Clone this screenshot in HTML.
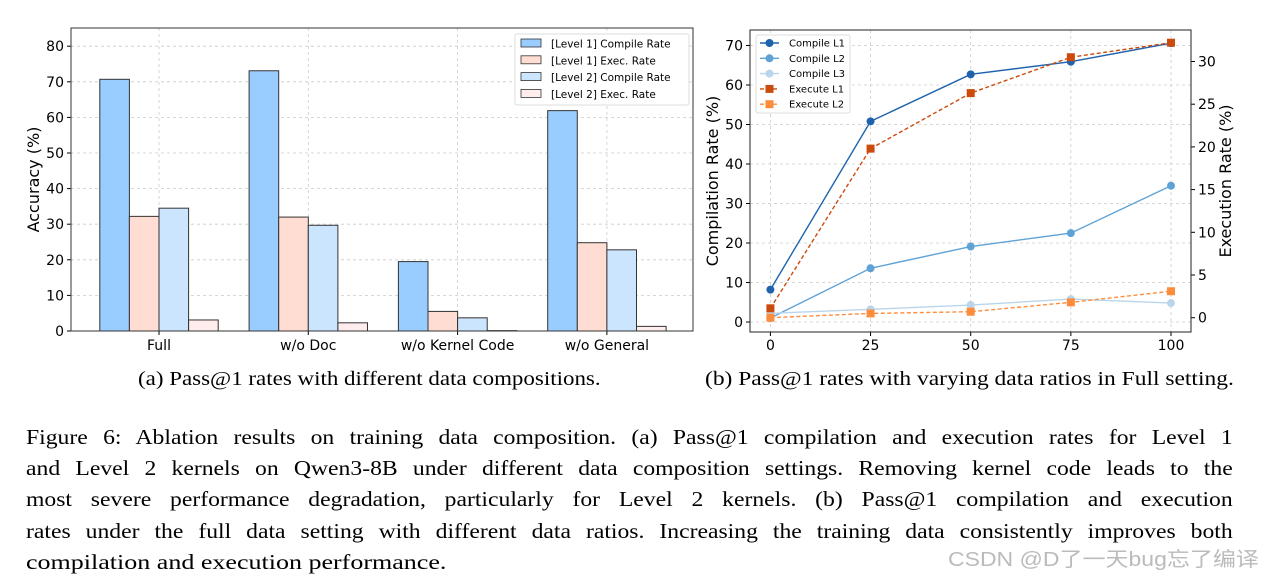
<!DOCTYPE html>
<html><head><meta charset="utf-8"><style>
html,body{margin:0;padding:0;background:#fff;width:1272px;height:578px;overflow:hidden;position:relative}
svg{position:absolute;left:0;top:0}
.cap{position:absolute;font-family:"Liberation Serif",serif;font-size:20.5px;color:#000;white-space:nowrap;transform:scaleX(1.12);transform-origin:0 0}
.ln{position:absolute;left:26px;width:1097px;font-family:"Liberation Serif",serif;font-size:21.5px;color:#000;text-align:justify;text-align-last:justify;white-space:nowrap;line-height:24px;transform:scaleX(1.1);transform-origin:0 0}
.wm{position:absolute;left:948px;top:543px;font-family:"Liberation Sans","Noto Sans CJK SC",sans-serif;font-size:20px;color:#bbb;transform:scaleX(1.15);transform-origin:0 0;white-space:nowrap}
</style></head><body>
<svg id="svg" width="1272" height="578" font-family="DejaVu Sans, sans-serif"></svg>
<div class="cap" style="left:138px;top:368px">(a) Pass@1 rates with different data compositions.</div>
<div class="cap" style="left:705px;top:368px;transform:scaleX(1.145)">(b) Pass@1 rates with varying data ratios in Full setting.</div>
<div class="ln" style="top:425px">Figure 6: Ablation results on training data composition. (a) Pass@1 compilation and execution rates for Level 1</div>
<div class="ln" style="top:456px">and Level 2 kernels on Qwen3-8B under different data composition settings. Removing kernel code leads to the</div>
<div class="ln" style="top:487px">most severe performance degradation, particularly for Level 2 kernels. (b) Pass@1 compilation and execution</div>
<div class="ln" style="top:519px">rates under the full data setting with different data ratios. Increasing the training data consistently improves both</div>
<div class="ln" style="top:550px;text-align-last:left;transform:scaleX(1.21)">compilation and execution performance.</div>
<div class="wm">CSDN @D了一天bug忘了编译</div>
<script>
const barCategories=["Full","w/o Doc","w/o Kernel Code","w/o General"];
const barSeriesNames=["[Level 1] Compile Rate","[Level 1] Exec. Rate","[Level 2] Compile Rate","[Level 2] Exec. Rate"];
const l1Compile=[70.7,73.1,19.5,61.9];
const l1Exec=[32.2,32.0,5.5,24.8];
const l2Compile=[34.5,29.7,3.7,22.8];
const l2Exec=[3.1,2.3,0.1,1.3];
const barYTicks=[0,10,20,30,40,50,60,70,80];
const lineX=[0,25,50,75,100];
const compileL1=[8.2,50.8,62.7,65.9,70.6];
const compileL2=[1.0,13.6,19.1,22.5,34.5];
const compileL3=[2.2,3.2,4.3,5.8,4.8];
const executeL1=[1.1,19.8,26.3,30.5,32.2];
const executeL2=[0.0,0.5,0.7,1.8,3.1];
const leftTicks=[0,10,20,30,40,50,60,70];
const rightTicks=[0,5,10,15,20,25,30];

const NS="http://www.w3.org/2000/svg";
const svg=document.getElementById('svg');
function el(t,a,p){const e=document.createElementNS(NS,t);for(const k in a)e.setAttribute(k,a[k]);(p||svg).appendChild(e);return e;}
function txt(s,a,p){const e=el('text',a,p);e.textContent=s;return e;}

// ---- Bar chart ----
const bx0=71,bx1=693,by0=331,byTop=28;
const yB=v=>by0-v*35.6/10;
const gx=i=>159+i*149.3;
const bw=29.6;
const gA=el('g',{});


barYTicks.forEach(t=>{
  const y=yB(t);
  const g=el('line',{x1:bx0,x2:bx1,y1:y,y2:y,stroke:'#ccc','stroke-dasharray':'3,3','stroke-width':0.8},gA);
  
  
  el('line',{x1:bx0-4,x2:bx0,y1:y,y2:y,stroke:'#000'},gA);
  const l=txt(String(t),{x:bx0-7,y:y+5,'text-anchor':'end','font-size':14},gA);
  
  
});
barCategories.forEach((c,i)=>{
  const x=gx(i);
  el('line',{x1:x,x2:x,y1:byTop,y2:by0,stroke:'#ccc','stroke-dasharray':'3,3','stroke-width':0.8},gA);
  el('line',{x1:x,x2:x,y1:by0,y2:by0+4,stroke:'#000'},gA);
  const l=txt(c,{x:x,y:by0+19,'text-anchor':'middle','font-size':14},gA);
  
  
});
const series=[l1Compile,l1Exec,l2Compile,l2Exec];
const colors=['#99ccff','#ffddd2','#cce5ff','#ffecec'];
series.forEach((s,j)=>{
  s.forEach((v,i)=>{
    const x=gx(i)-2*bw+j*bw;
    const r=el('rect',{x:x,y:yB(v),width:bw,height:by0-yB(v),fill:colors[j],stroke:'#333','stroke-width':1},gA);
    
    
  });
});
el('rect',{x:bx0,y:byTop,width:bx1-bx0,height:by0-byTop,fill:'none',stroke:'#333','stroke-width':1},gA);
const yl=txt('Accuracy (%)',{x:0,y:0,'font-size':16,'text-anchor':'middle',transform:`translate(39,${(byTop+by0)/2}) rotate(-90)`},gA);


const lgA=el('g',{},gA);


el('rect',{x:515,y:34,width:174,height:71,fill:'#fff',stroke:'#ddd',rx:2},lgA);
barSeriesNames.forEach((n,j)=>{
  const y=44+j*16.8;
  el('rect',{x:521,y:y-5,width:20,height:8,fill:colors[j],stroke:'#333','stroke-width':0.8},lgA);
  const t=txt(n,{x:551,y:y+3.5,'font-size':10.5},lgA);
  
  
});

// ---- Line chart ----
const lx0=750,lx1=1191,ly0=332,lyTop=30;
const xL=v=>770.4+v*(1171-770.4)/100;
const yLeft=v=>322-v*39.5/10;
const yRight=v=>317.7-v*42.7/5;
const gB=el('g',{});


leftTicks.forEach(t=>{
  const y=yLeft(t);
  el('line',{x1:lx0,x2:lx1,y1:y,y2:y,stroke:'#ccc','stroke-dasharray':'3,3','stroke-width':0.8},gB);
  el('line',{x1:lx0-4,x2:lx0,y1:y,y2:y,stroke:'#000'},gB);
  const l=txt(String(t),{x:lx0-7,y:y+5,'text-anchor':'end','font-size':14},gB);
  
  
});
rightTicks.forEach(t=>{
  const y=yRight(t);
  el('line',{x1:lx1,x2:lx1+4,y1:y,y2:y,stroke:'#000'},gB);
  const l=txt(String(t),{x:lx1+7,y:y+5,'font-size':14},gB);
  
  
});
lineX.forEach(t=>{
  const x=xL(t);
  el('line',{x1:x,x2:x,y1:lyTop,y2:ly0,stroke:'#ccc','stroke-dasharray':'3,3','stroke-width':0.8},gB);
  el('line',{x1:x,x2:x,y1:ly0,y2:ly0+4,stroke:'#000'},gB);
  const l=txt(String(t),{x:x,y:ly0+18,'text-anchor':'middle','font-size':14},gB);
  
  
});
const lines=[
 {name:'Compile L1',d:compileL1,ax:yLeft,c:'#1f63ad',dash:null,m:'o'},
 {name:'Compile L2',d:compileL2,ax:yLeft,c:'#5fa2d6',dash:null,m:'o'},
 {name:'Compile L3',d:compileL3,ax:yLeft,c:'#b9d5ec',dash:null,m:'o'},
 {name:'Execute L1',d:executeL1,ax:yRight,c:'#cc4a0c',dash:'4,2.5',m:'s'},
 {name:'Execute L2',d:executeL2,ax:yRight,c:'#fd8d3c',dash:'4,2.5',m:'s'}];
function marker(p,x,y,s){
  if(s.m==='o') return el('circle',{cx:x,cy:y,r:4,fill:s.c},p);
  return el('rect',{x:x-4,y:y-4,width:8,height:8,fill:s.c},p);
}
lines.forEach(s=>{
  const g=el('g',{},gB);
  
  
  const pts=s.d.map((v,i)=>xL(lineX[i])+','+s.ax(v)).join(' ');
  const a={points:pts,fill:'none',stroke:s.c,'stroke-width':1.4};
  if(s.dash)a['stroke-dasharray']=s.dash;
  el('polyline',a,g);
  s.d.forEach((v,i)=>marker(g,xL(lineX[i]),s.ax(v),s));
});
el('rect',{x:lx0,y:lyTop,width:lx1-lx0,height:ly0-lyTop,fill:'none',stroke:'#222','stroke-width':1},gB);
const ll=txt('Compilation Rate (%)',{'font-size':16,'text-anchor':'middle',transform:`translate(718,${(lyTop+ly0)/2}) rotate(-90)`},gB);


const rl=txt('Execution Rate (%)',{'font-size':16,'text-anchor':'middle',transform:`translate(1231,${(lyTop+ly0)/2}) rotate(-90)`},gB);


const lgB=el('g',{},gB);


el('rect',{x:756,y:35,width:94,height:78,fill:'#fff',stroke:'#ddd',rx:2},lgB);
lines.forEach((s,j)=>{
  const y=43+j*15.3;
  const a={x1:760,x2:779,y1:y,y2:y,stroke:s.c,'stroke-width':1.4};
  if(s.dash)a['stroke-dasharray']=s.dash;
  el('line',a,lgB);
  marker(lgB,769.5,y,s);
  const t=txt(s.name,{x:789,y:y+3.5,'font-size':10},lgB);
  
  
});
</script>
</body></html>
